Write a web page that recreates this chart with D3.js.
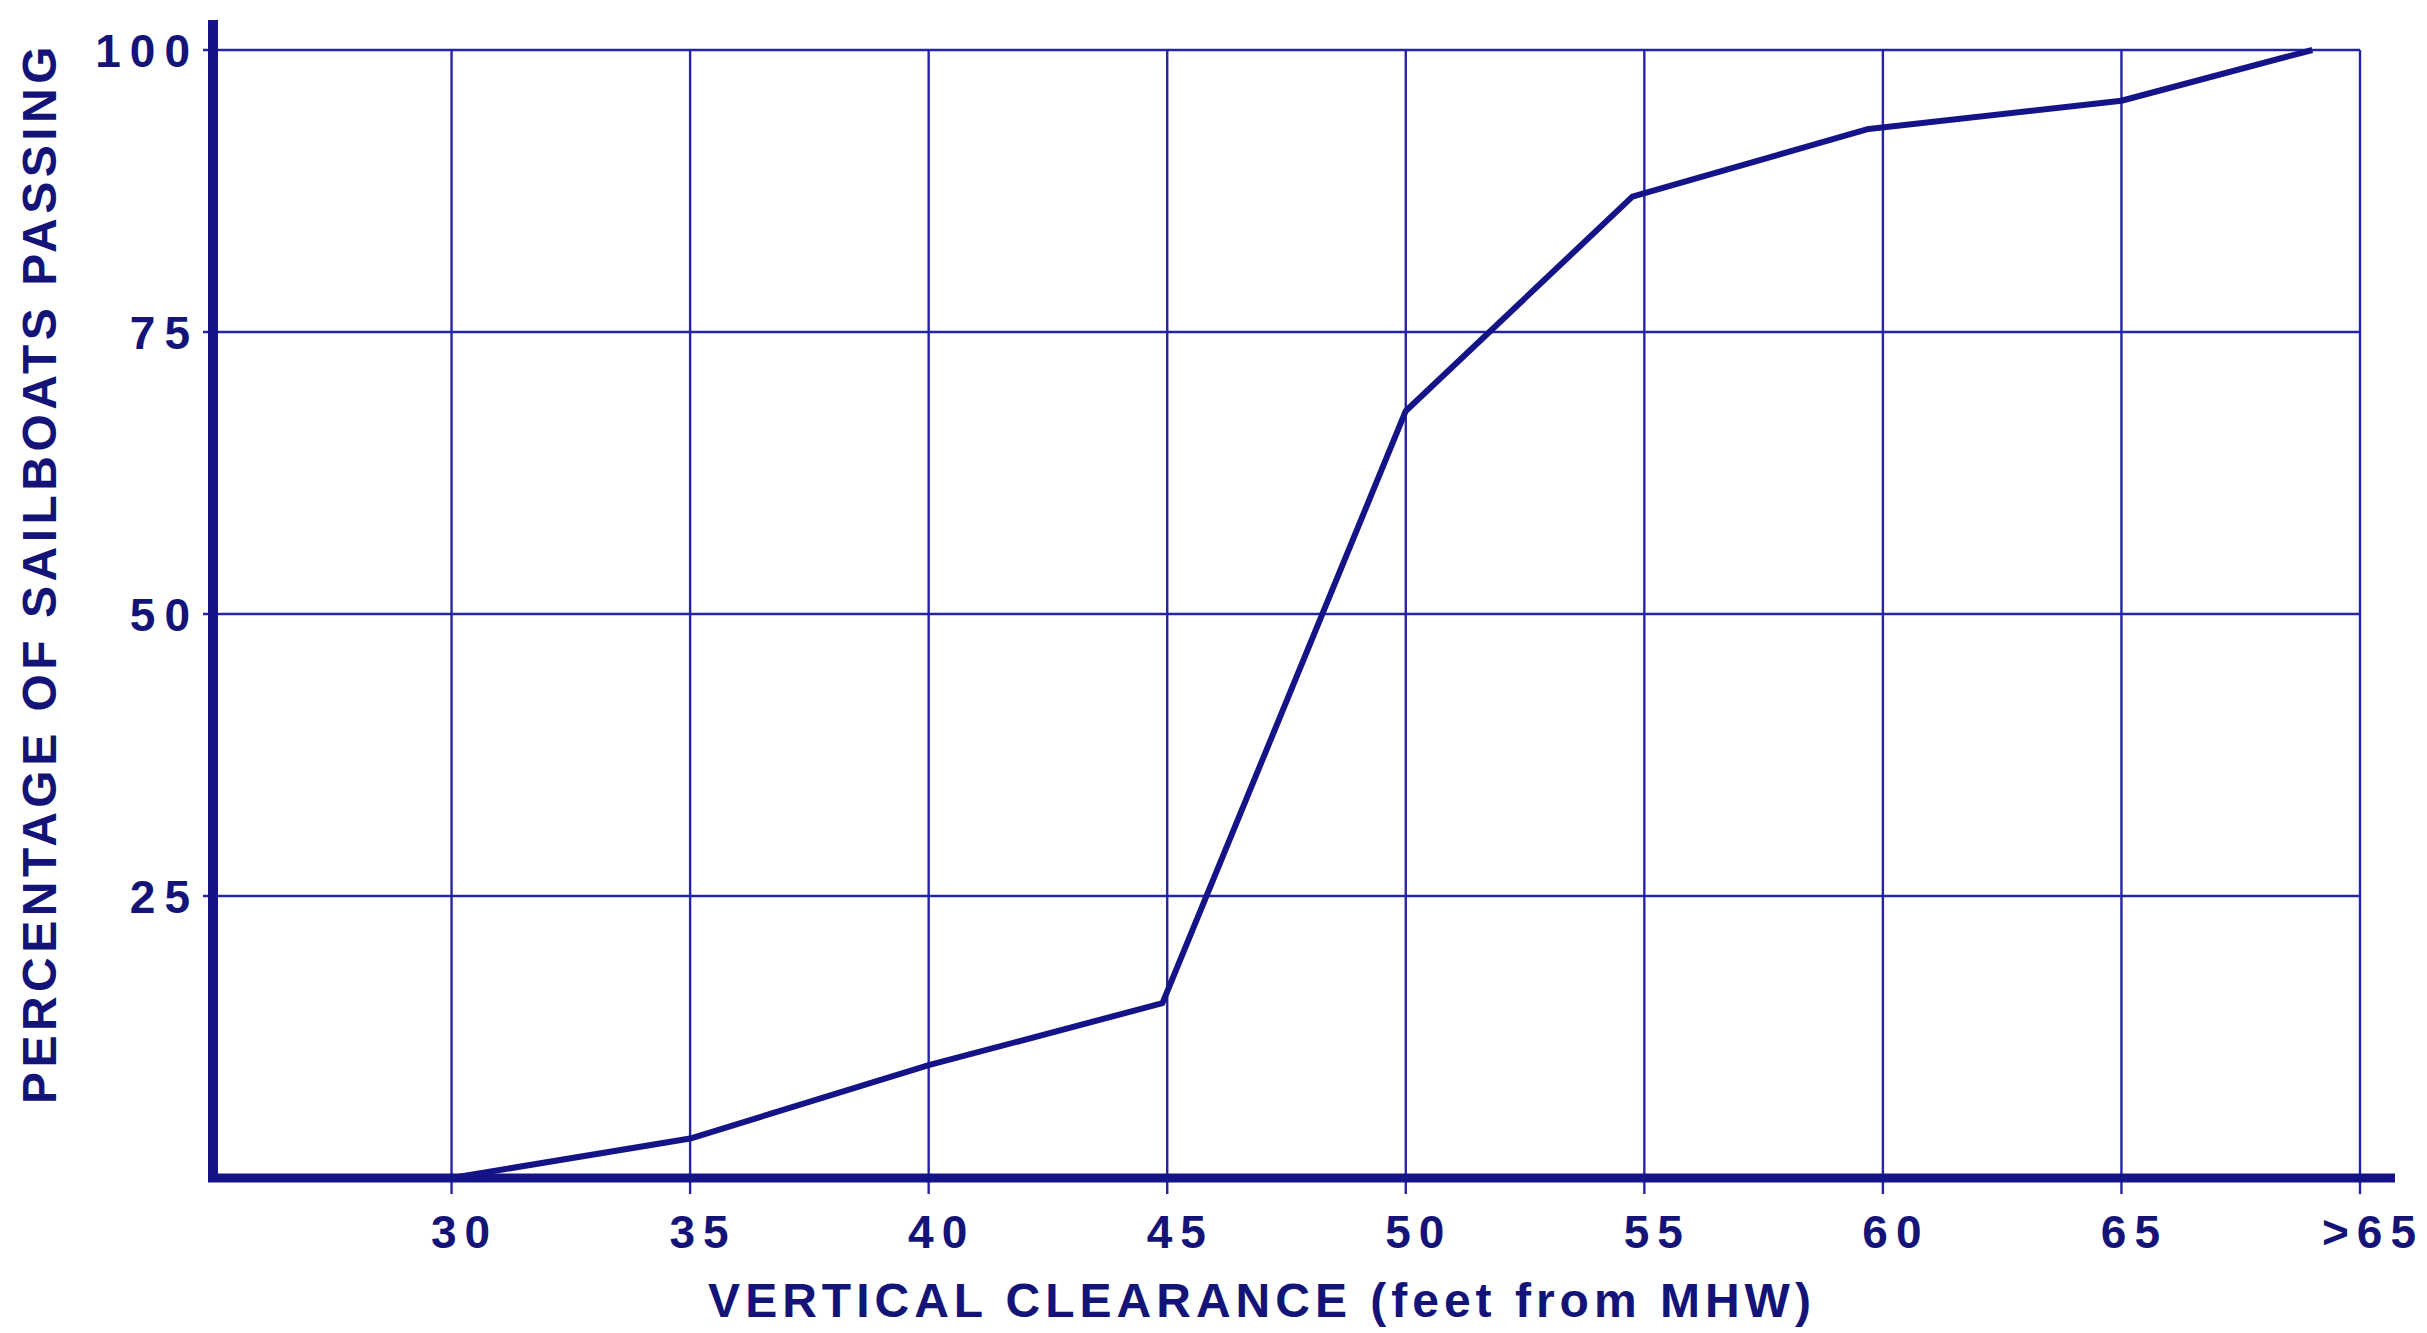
<!DOCTYPE html>
<html>
<head>
<meta charset="utf-8">
<script src="https://cdn.jsdelivr.net/npm/d3@7"></script>
<style>
    body { margin: 0; background: #fff; }
    svg { display: block; }
    text { font-family: "Liberation Sans", Arial, sans-serif; font-weight: bold; fill: #131378; }
</style>
</head>
<body>
<svg id="chart" width="2427" height="1333"></svg>
<script>
// values
var clearance = [30, 35, 40, 44.9, 50, 54.75, 59.7, 65, 69];
var percentPassing = [0, 3.5, 10, 15.5, 68, 87, 93, 95.5, 100];

var xTickValues = [30, 35, 40, 45, 50, 55, 60, 65, 70];
var xTickLabels = ["30", "35", "40", "45", "50", "55", "60", "65", ">65"];
var yTickValues = [25, 50, 75, 100];
var yTickLabels = ["25", "50", "75", "100"];

var xTitle = "VERTICAL CLEARANCE (feet from MHW)";
var yTitle = "PERCENTAGE OF SAILBOATS PASSING";

var navy = "#141488";
var gridBlue = "#2424a4";

var svg = d3.select("#chart");

var x = d3.scaleLinear().domain([25, 70]).range([213, 2360]);
var y = d3.scaleLinear().domain([0, 100]).range([1178, 50]);

var grid = svg.append("g").attr("id", "grid");

// horizontal gridlines, ending at the right frame line
grid.selectAll("line.h").data(yTickValues).enter().append("line")
    .attr("class", "h")
    .attr("x1", x(25) - 10)
    .attr("x2", x(70))
    .attr("y1", d => y(d))
    .attr("y2", d => y(d))
    .attr("stroke", gridBlue)
    .attr("stroke-width", 2.4);

// vertical gridlines, poking a little below the axis as ticks
grid.selectAll("line.v").data(xTickValues).enter().append("line")
    .attr("class", "v")
    .attr("x1", d => x(d))
    .attr("x2", d => x(d))
    .attr("y1", y(100))
    .attr("y2", y(0) + 16)
    .attr("stroke", gridBlue)
    .attr("stroke-width", 2.4);

// the thick axes
svg.append("line")
    .attr("x1", x(25)).attr("x2", x(25))
    .attr("y1", 20).attr("y2", y(0))
    .attr("stroke", navy).attr("stroke-width", 10);

svg.append("line")
    .attr("x1", x(25) - 5).attr("x2", 2395)
    .attr("y1", y(0)).attr("y2", y(0))
    .attr("stroke", navy).attr("stroke-width", 9);

// the curve
var line = d3.line()
    .x((d, i) => x(clearance[i]))
    .y(d => y(d));

svg.append("path")
    .datum(percentPassing)
    .attr("d", line)
    .attr("fill", "none")
    .attr("stroke", navy)
    .attr("stroke-width", 6)
    .attr("stroke-linejoin", "round");

// tick labels
svg.append("g").selectAll("text").data(yTickValues).enter().append("text")
    .attr("x", x(25) - 14)
    .attr("y", d => y(d))
    .attr("dy", "0.38em")
    .attr("text-anchor", "end")
    .style("font-size", "46px")
    .style("letter-spacing", "9px")
    .text((d, i) => yTickLabels[i]);

svg.append("g").selectAll("text").data(xTickValues).enter().append("text")
    .attr("x", d => x(d) + 13)
    .attr("y", 1248)
    .attr("text-anchor", "middle")
    .style("font-size", "46px")
    .style("letter-spacing", "8px")
    .text((d, i) => xTickLabels[i]);

// axis titles
svg.append("text")
    .attr("x", 1262)
    .attr("y", 1317)
    .attr("text-anchor", "middle")
    .style("font-size", "48px")
    .style("letter-spacing", "5px")
    .text(xTitle);

svg.append("text")
    .attr("transform", "translate(56,573) rotate(-90)")
    .attr("text-anchor", "middle")
    .style("font-size", "48px")
    .style("letter-spacing", "4.5px")
    .text(yTitle);
</script>
</body>
</html>
